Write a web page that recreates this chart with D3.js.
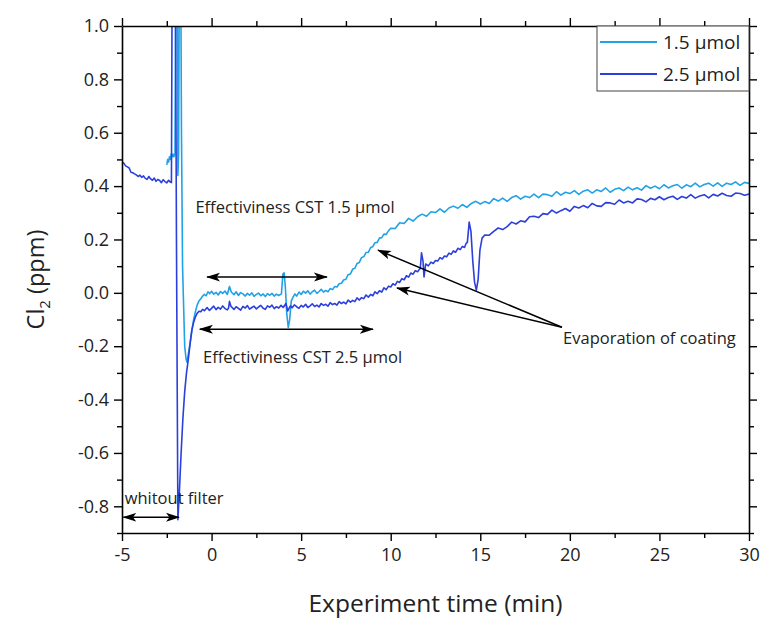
<!DOCTYPE html>
<html>
<head>
<meta charset="utf-8">
<script src="https://cdn.jsdelivr.net/npm/d3@7/dist/d3.min.js"></script>
<style>
  html, body { margin: 0; padding: 0; background: #fff; }
  svg { display: block; }
  text { font-family: "Open Sans", "Noto Sans", sans-serif; fill: #222; }
</style>
</head>
<body>
<svg id="chart" width="763" height="619"></svg>
<script>
// Cl2 concentration (ppm) against experiment time (min), [time, value]
const series15 = [
  [-2.50,0.48],[-2.45,0.50],[-2.40,0.49],[-2.35,0.51],[-2.30,0.50],[-2.25,0.52],[-2.20,0.51],[-2.15,0.52],
  [-2.10,0.51],[-2.04,0.52],[-2.00,1.20],[-1.92,1.20],[-1.88,0.44],[-1.84,0.52],[-1.80,1.20],[-1.72,1.20],
  [-1.68,0.60],[-1.62,0.10],[-1.50,-0.20],[-1.42,-0.25],[-1.37,-0.26],[-1.30,-0.23],[-1.20,-0.19],[-1.10,-0.14],
  [-1.00,-0.10],[-0.90,-0.07],[-0.80,-0.045],[-0.70,-0.03],[-0.60,-0.022],[-0.50,-0.012],[-0.40,-0.006],[-0.30,-0.011],
  [-0.20,0.004],[-0.10,-0.003],[0.00,0.006],[0.12,-0.005],[0.25,0.002],[0.37,-0.008],[0.50,0.005],[0.62,-0.002],
  [0.75,0.007],[0.88,-0.006],[1.00,0.024],[1.10,0.003],[1.25,-0.007],[1.37,0.004],[1.50,-0.010],[1.62,0.001],
  [1.75,-0.004],[1.88,-0.012],[2.00,-0.002],[2.12,-0.009],[2.25,0.000],[2.37,-0.013],[2.50,-0.006],[2.62,-0.001],
  [2.75,-0.011],[2.88,-0.004],[3.00,-0.014],[3.12,-0.003],[3.25,-0.009],[3.37,-0.002],[3.50,-0.012],[3.62,-0.005],
  [3.75,-0.010],[3.90,-0.004],[3.98,0.070],[4.05,0.075],[4.12,0.020],[4.20,-0.080],[4.28,-0.130],[4.36,-0.100],
  [4.45,-0.030],[4.55,-0.016],[4.65,-0.004],[4.75,-0.012],[4.88,0.003],[5.00,-0.006],[5.12,0.006],[5.25,-0.001],
  [5.37,0.008],[5.50,-0.005],[5.62,0.004],[5.75,0.010],[5.88,-0.002],[6.00,0.005],[6.12,0.013],[6.25,0.003],
  [6.37,0.009],[6.50,0.004],[6.62,0.016],[6.75,0.012],[6.88,0.024],[7.00,0.022],[7.12,0.034],[7.25,0.036],
  [7.37,0.048],[7.50,0.051],[7.62,0.068],[7.75,0.071],[7.88,0.089],[8.00,0.092],[8.12,0.110],[8.25,0.114],
  [8.37,0.132],[8.50,0.136],[8.62,0.151],[8.75,0.152],[8.88,0.170],[9.00,0.173],[9.12,0.188],[9.25,0.189],
  [9.37,0.205],[9.50,0.207],[9.62,0.220],[9.75,0.219],[9.88,0.233],[10.00,0.242],[10.25,0.241],[10.50,0.263],
  [10.75,0.260],[11.00,0.279],[11.25,0.269],[11.50,0.285],[11.75,0.295],[12.00,0.287],[12.25,0.304],[12.50,0.301],
  [12.75,0.315],[13.00,0.302],[13.25,0.318],[13.50,0.325],[13.75,0.317],[14.00,0.331],[14.25,0.320],[14.50,0.335],
  [14.75,0.343],[15.00,0.333],[15.25,0.342],[15.50,0.335],[15.75,0.353],[16.00,0.344],[16.25,0.355],[16.50,0.343],
  [16.75,0.357],[17.00,0.364],[17.25,0.351],[17.50,0.362],[17.75,0.357],[18.00,0.370],[18.25,0.357],[18.50,0.370],
  [18.75,0.368],[19.00,0.362],[19.25,0.379],[19.50,0.366],[19.75,0.377],[20.00,0.372],[20.25,0.383],[20.50,0.369],
  [20.75,0.381],[21.00,0.386],[21.25,0.374],[21.50,0.386],[21.75,0.380],[22.00,0.393],[22.25,0.377],[22.50,0.388],
  [22.75,0.393],[23.00,0.383],[23.25,0.396],[23.50,0.386],[23.75,0.394],[24.00,0.385],[24.25,0.402],[24.50,0.392],
  [24.75,0.400],[25.00,0.390],[25.25,0.405],[25.50,0.393],[25.75,0.401],[26.00,0.406],[26.25,0.392],[26.50,0.405],
  [26.75,0.398],[27.00,0.411],[27.25,0.397],[27.50,0.406],[27.75,0.411],[28.00,0.400],[28.25,0.412],[28.50,0.399],
  [28.75,0.411],[29.00,0.406],[29.25,0.416],[29.50,0.403],[29.75,0.414],[30.00,0.410]
];

const series25 = [
  [-5.00,0.490],[-4.90,0.486],[-4.80,0.476],[-4.70,0.472],[-4.60,0.468],[-4.50,0.452],[-4.40,0.450],[-4.30,0.446],
  [-4.20,0.442],[-4.10,0.436],[-4.00,0.441],[-3.90,0.433],[-3.80,0.438],[-3.70,0.429],[-3.60,0.425],[-3.50,0.436],
  [-3.40,0.427],[-3.30,0.422],[-3.20,0.430],[-3.10,0.418],[-3.00,0.425],[-2.90,0.421],[-2.80,0.413],[-2.70,0.424],
  [-2.60,0.417],[-2.50,0.412],[-2.40,0.422],[-2.30,0.415],[-2.24,0.413],[-2.20,1.20],[-2.02,1.20],[-1.96,0.20],
  [-1.88,-0.85],[-1.80,-0.75],[-1.70,-0.60],[-1.60,-0.47],[-1.50,-0.37],[-1.40,-0.30],[-1.30,-0.25],[-1.20,-0.19],
  [-1.10,-0.14],[-1.00,-0.11],[-0.90,-0.09],[-0.80,-0.076],[-0.70,-0.069],[-0.60,-0.071],[-0.50,-0.062],[-0.40,-0.067],
  [-0.25,-0.055],[-0.12,-0.066],[0.00,-0.058],[0.12,-0.050],[0.25,-0.063],[0.37,-0.054],[0.50,-0.061],[0.62,-0.049],
  [0.75,-0.059],[0.88,-0.064],[0.95,-0.056],[1.00,-0.032],[1.08,-0.050],[1.25,-0.062],[1.37,-0.052],[1.50,-0.058],
  [1.62,-0.065],[1.75,-0.051],[1.88,-0.057],[2.00,-0.048],[2.12,-0.061],[2.25,-0.055],[2.37,-0.050],[2.50,-0.060],
  [2.62,-0.053],[2.75,-0.047],[2.88,-0.058],[3.00,-0.062],[3.12,-0.049],[3.25,-0.054],[3.37,-0.046],[3.50,-0.059],
  [3.62,-0.052],[3.75,-0.057],[3.88,-0.047],[4.00,-0.055],[4.15,-0.040],[4.25,-0.068],[4.40,-0.049],[4.50,-0.056],
  [4.62,-0.045],[4.75,-0.052],[4.88,-0.058],[5.00,-0.047],[5.12,-0.053],[5.25,-0.043],[5.37,-0.055],[5.50,-0.049],
  [5.62,-0.041],[5.75,-0.051],[5.88,-0.046],[6.00,-0.053],[6.12,-0.040],[6.25,-0.047],[6.37,-0.043],[6.50,-0.050],
  [6.62,-0.037],[6.75,-0.044],[6.88,-0.040],[7.00,-0.046],[7.12,-0.033],[7.25,-0.040],[7.37,-0.035],[7.50,-0.041],
  [7.62,-0.027],[7.75,-0.035],[7.88,-0.028],[8.00,-0.033],[8.12,-0.019],[8.25,-0.027],[8.37,-0.018],[8.50,-0.022],
  [8.62,-0.008],[8.75,-0.016],[8.88,-0.006],[9.00,-0.011],[9.12,0.004],[9.25,-0.003],[9.37,0.008],[9.50,0.003],
  [9.62,0.019],[9.75,0.012],[9.88,0.025],[10.00,0.022],[10.12,0.034],[10.25,0.029],[10.37,0.043],[10.50,0.039],
  [10.62,0.053],[10.75,0.049],[10.88,0.064],[11.00,0.059],[11.12,0.074],[11.25,0.070],[11.37,0.083],[11.50,0.079],
  [11.65,0.092],[11.72,0.150],[11.80,0.120],[11.86,0.060],[11.95,0.108],[12.10,0.101],[12.25,0.115],[12.37,0.110],
  [12.50,0.121],[12.62,0.119],[12.75,0.132],[12.88,0.127],[13.00,0.138],[13.12,0.135],[13.25,0.149],[13.37,0.144],
  [13.50,0.157],[13.62,0.152],[13.75,0.167],[13.88,0.162],[14.00,0.174],[14.12,0.170],[14.20,0.184],[14.28,0.190],
  [14.38,0.265],[14.48,0.230],[14.58,0.120],[14.68,0.040],[14.78,0.010],[14.88,0.050],[14.98,0.160],[15.10,0.205],
  [15.25,0.217],[15.50,0.216],[15.75,0.230],[16.00,0.243],[16.25,0.237],[16.50,0.248],[16.75,0.265],[17.00,0.258],
  [17.25,0.270],[17.50,0.266],[17.75,0.285],[18.00,0.287],[18.25,0.282],[18.50,0.297],[18.75,0.294],[19.00,0.310],
  [19.25,0.299],[19.50,0.308],[19.75,0.316],[20.00,0.306],[20.25,0.324],[20.50,0.318],[20.75,0.327],[21.00,0.319],
  [21.25,0.335],[21.50,0.326],[21.75,0.324],[22.00,0.338],[22.25,0.337],[22.50,0.332],[22.75,0.348],[23.00,0.337],
  [23.25,0.343],[23.50,0.337],[23.75,0.352],[24.00,0.350],[24.25,0.341],[24.50,0.354],[24.75,0.349],[25.00,0.360],
  [25.25,0.349],[25.50,0.357],[25.75,0.362],[26.00,0.350],[26.25,0.361],[26.50,0.355],[26.75,0.368],[27.00,0.355],
  [27.25,0.363],[27.50,0.368],[27.75,0.356],[28.00,0.369],[28.25,0.363],[28.50,0.373],[28.75,0.365],[29.00,0.362],
  [29.25,0.374],[29.50,0.372],[29.75,0.366],[30.00,0.370]
];

const seriesNames = ["1.5 \u03bcmol", "2.5 \u03bcmol"];
const seriesColors = ["#22a2e6", "#2b3fdc"];

const xMajorTicks = [-5, 0, 5, 10, 15, 20, 25, 30];
const xMinorTicks = [-2.5, 2.5, 7.5, 12.5, 17.5, 22.5, 27.5];
const yMajorTicks = [-0.8, -0.6, -0.4, -0.2, 0.0, 0.2, 0.4, 0.6, 0.8, 1.0];
const yMinorTicks = [-0.9, -0.7, -0.5, -0.3, -0.1, 0.1, 0.3, 0.5, 0.7, 0.9];

// Annotation labels and arrows, in data units
const notes = [
  { text: "Effectiviness CST 1.5 \u03bcmol", t: -0.9, v: 0.299 },
  { text: "Effectiviness CST 2.5 \u03bcmol", t: -0.48, v: -0.262 },
  { text: "whitout filter", t: -4.85, v: -0.79 },
  { text: "Evaporation of coating", t: 19.62, v: -0.19 }
];
const arrows = [
  { t0: -0.25, v0: 0.059, t1: 6.44, v1: 0.059, both: true },
  { t0: -0.65, v0: -0.136, t1: 9.01, v1: -0.136, both: true },
  { t0: -4.92, v0: -0.841, t1: -1.82, v1: -0.841, both: true },
  { t0: 19.56, v0: -0.129, t1: 9.29, v1: 0.160, both: false },
  { t0: 19.56, v0: -0.129, t1: 10.35, v1: 0.018, both: false }
];

const svg = d3.select("#chart");
const plot = { left: 122, right: 749, top: 26, bottom: 533 };

const x = d3.scaleLinear().domain([-5, 30]).range([plot.left, plot.right]);
const y = d3.scaleLinear().domain([-0.9, 1.0]).range([plot.bottom, plot.top]);

const fmtX = v => String(v);
const fmtY = v => (Math.abs(v) < 1e-9 ? 0 : v).toFixed(1);

const defs = svg.append("defs");
defs.append("clipPath").attr("id", "plotClip")
  .append("rect")
  .attr("x", plot.left).attr("y", plot.top)
  .attr("width", plot.right - plot.left).attr("height", plot.bottom - plot.top);

const marker = defs.append("marker")
  .attr("id", "head").attr("viewBox", "0 -5 14 10")
  .attr("refX", 13).attr("refY", 0)
  .attr("markerUnits", "userSpaceOnUse")
  .attr("markerWidth", 14).attr("markerHeight", 10)
  .attr("orient", "auto-start-reverse");
marker.append("path").attr("d", "M0,-4.5L14,0L0,4.5L3.5,0Z").attr("fill", "#000");

// Curves
const line = d3.line().x(d => x(d[0])).y(d => y(d[1]));
const curves = svg.append("g").attr("clip-path", "url(#plotClip)");
[series15, series25].forEach((s, i) => {
  curves.append("path").datum(s)
    .attr("d", line)
    .attr("fill", "none")
    .attr("stroke", seriesColors[i])
    .attr("stroke-width", 1.6)
    .attr("stroke-linejoin", "round");
});

// Axes on all four sides, ticks pointing outward
function styleAxis(g) {
  g.selectAll("path.domain").attr("stroke", "#000").attr("stroke-width", 1.6);
  g.selectAll(".tick line").attr("stroke", "#000").attr("stroke-width", 1.4);
  g.selectAll(".tick text").style("font-size", "18px").attr("fill", "#222");
}
function minor(axisFn, pos, ticks, transform) {
  svg.append("g").attr("transform", transform)
    .call(axisFn(pos).tickValues(ticks).tickSize(5).tickFormat("")).call(styleAxis)
    .select(".domain").remove();
}

svg.append("g").attr("transform", `translate(0,${plot.bottom})`)
  .call(d3.axisBottom(x).tickValues(xMajorTicks).tickSize(8).tickSizeOuter(0).tickPadding(7).tickFormat(fmtX))
  .call(styleAxis);
minor(d3.axisBottom, x, xMinorTicks, `translate(0,${plot.bottom})`);

svg.append("g").attr("transform", `translate(0,${plot.top})`)
  .call(d3.axisTop(x).tickValues(xMajorTicks).tickSize(8).tickSizeOuter(0).tickFormat(""))
  .call(styleAxis);
minor(d3.axisTop, x, xMinorTicks, `translate(0,${plot.top})`);

svg.append("g").attr("transform", `translate(${plot.left},0)`)
  .call(d3.axisLeft(y).tickValues(yMajorTicks).tickSize(8).tickSizeOuter(0).tickPadding(5).tickFormat(fmtY))
  .call(styleAxis);
minor(d3.axisLeft, y, yMinorTicks, `translate(${plot.left},0)`);

svg.append("g").attr("transform", `translate(${plot.right},0)`)
  .call(d3.axisRight(y).tickValues(yMajorTicks).tickSize(8).tickSizeOuter(0).tickFormat(""))
  .call(styleAxis);
minor(d3.axisRight, y, yMinorTicks, `translate(${plot.right},0)`);

// Axis titles
svg.append("text")
  .attr("x", (plot.left + plot.right) / 2).attr("y", 612)
  .attr("text-anchor", "middle")
  .style("font-size", "24.5px")
  .text("Experiment time (min)");

const yTitle = svg.append("text")
  .attr("transform", `translate(44,${(plot.top + plot.bottom) / 2}) rotate(-90)`)
  .attr("text-anchor", "middle")
  .style("font-size", "23.5px");
yTitle.append("tspan").text("Cl");
yTitle.append("tspan").attr("dy", 6).style("font-size", "15px").text("2");
yTitle.append("tspan").attr("dy", -6).text(" (ppm)");

// Annotations
const notesG = svg.append("g");
notes.forEach(n => {
  notesG.append("text")
    .attr("x", x(n.t)).attr("y", y(n.v))
    .style("font-size", "16.5px")
    .attr("fill", "#333")
    .text(n.text);
});
arrows.forEach(a => {
  notesG.append("line")
    .attr("x1", x(a.t0)).attr("y1", y(a.v0))
    .attr("x2", x(a.t1)).attr("y2", y(a.v1))
    .attr("stroke", "#000").attr("stroke-width", 1.5)
    .attr("marker-end", "url(#head)")
    .attr("marker-start", a.both ? "url(#head)" : null);
});

// Legend
const legend = svg.append("g");
legend.append("rect")
  .attr("x", 597).attr("y", plot.top).attr("width", plot.right - 597).attr("height", 65)
  .attr("fill", "#fff").attr("stroke", "#444").attr("stroke-width", 1);
seriesNames.forEach((name, i) => {
  const ly = 42 + i * 32;
  legend.append("line")
    .attr("x1", 600).attr("x2", 657).attr("y1", ly).attr("y2", ly)
    .attr("stroke", seriesColors[i]).attr("stroke-width", 1.8);
  legend.append("text")
    .attr("x", 663).attr("y", ly).attr("dy", "0.35em")
    .style("font-size", "19px")
    .text(name);
});
</script>
</body>
</html>
